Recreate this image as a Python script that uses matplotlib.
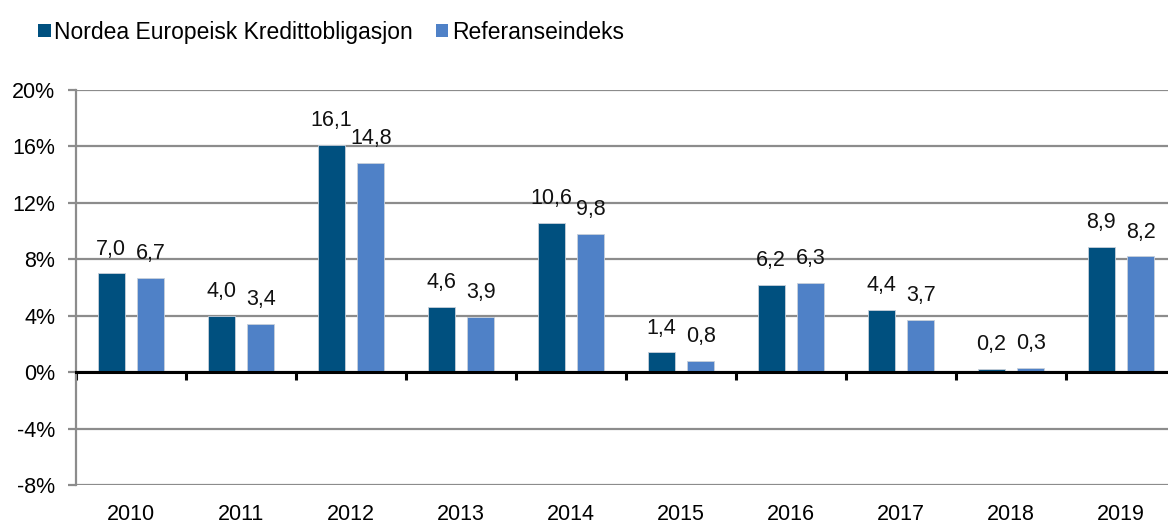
import matplotlib
matplotlib.use("Agg")
import matplotlib.pyplot as plt
import numpy as np
from matplotlib.ticker import FuncFormatter, FixedLocator

years = ["2010", "2011", "2012", "2013", "2014", "2015", "2016", "2017", "2018", "2019"]
fund = [7.0, 4.0, 16.1, 4.6, 10.6, 1.4, 6.2, 4.4, 0.2, 8.9]
index = [6.7, 3.4, 14.8, 3.9, 9.8, 0.8, 6.3, 3.7, 0.3, 8.2]
series_names = ["Nordea Europeisk Kredittobligasjon", "Referanseindeks"]
colors = ["#00507F", "#4F81C7"]

plt.rcParams["font.family"] = ["Liberation Sans", "DejaVu Sans"]

fig = plt.figure(figsize=(11.68, 5.23), dpi=100)
ax = fig.add_axes([76/1168, 1-485/523, 1100/1168, (485-90)/523])

x = np.arange(len(years))
w = 0.245
off = 0.18
b1 = ax.bar(x - off, fund, w, color=colors[0], edgecolor="#c8d0da", linewidth=0.6, label=series_names[0], zorder=3)
b2 = ax.bar(x + off, index, w, color=colors[1], edgecolor="#c8d0da", linewidth=0.6, label=series_names[1], zorder=3)

def fmt(v):
    return f"{v:.1f}".replace(".", ",")

for bars, vals in ((b1, fund), (b2, index)):
    for r, v in zip(bars, vals):
        ax.annotate(fmt(v), (r.get_x() + r.get_width()/2, v), xytext=(0, 10),
                    textcoords="offset points", ha="center", va="bottom", fontsize=15.5, color="#111111")

ax.set_xlim(-0.5, len(years) - 0.5)
ax.set_ylim(-8, 20)
ax.set_yticks(np.arange(-8, 21, 4))
ax.yaxis.set_major_formatter(FuncFormatter(lambda v, p: f"{int(v)}%"))
ax.grid(axis="y", color="#8c8c8c", linewidth=1.6, zorder=0)
ax.set_axisbelow(True)

for s in ("top", "right"):
    ax.spines[s].set_visible(False)
ax.spines["left"].set_color("#8c8c8c")
ax.spines["left"].set_linewidth(1.6)
ax.spines["bottom"].set_position(("data", 0))
ax.spines["bottom"].set_color("black")
ax.spines["bottom"].set_linewidth(2.2)
ax.spines["bottom"].set_zorder(4)

ax.set_xticks(x)
ax.set_xticklabels(years)
ax.xaxis.set_minor_locator(FixedLocator(np.arange(-0.5, len(years), 1.0)))
ax.tick_params(axis="x", which="major", length=0, pad=95, labelsize=15.5)
ax.tick_params(axis="x", which="minor", length=6, width=2.2, color="black", direction="out")
ax.tick_params(axis="y", length=6, width=1.6, color="#8c8c8c", labelsize=15.5, pad=9)

leg = fig.legend(handles=[b1, b2], labels=series_names, loc="upper left",
                 bbox_to_anchor=(0.015, 1.0), ncol=2, frameon=False, fontsize=16.5,
                 handlelength=0.55, handleheight=0.55, handletextpad=0.15, columnspacing=1.0)
for h in leg.legend_handles:
    h.set_edgecolor("none")

fig.savefig("out.png", dpi=100)
